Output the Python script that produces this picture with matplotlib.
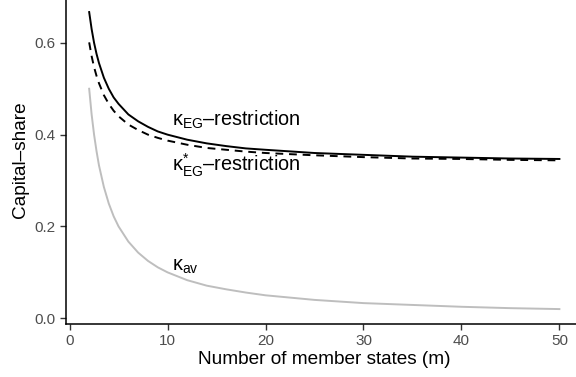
import matplotlib
matplotlib.use("Agg")
import matplotlib.pyplot as plt

plt.rcParams['font.family'] = ['Liberation Sans', 'DejaVu Sans']
plt.rcParams['mathtext.fontset'] = 'custom'
plt.rcParams['mathtext.rm'] = 'Liberation Sans'
plt.rcParams['mathtext.it'] = 'Liberation Sans'
plt.rcParams['mathtext.default'] = 'regular'

# Werte
m = [2, 2.25, 2.5, 2.75, 3, 3.5, 4, 4.5, 5, 6, 7, 8, 9, 10, 12, 14, 16, 18, 20,
     25, 30, 35, 40, 45, 50]
kappa_eg = [0.667, 0.630, 0.600, 0.576, 0.556, 0.524, 0.500, 0.481, 0.467,
            0.444, 0.429, 0.417, 0.407, 0.400, 0.389, 0.381, 0.375, 0.370,
            0.367, 0.360, 0.356, 0.352, 0.350, 0.348, 0.347]
kappa_eg_star = [0.601, 0.571, 0.547, 0.528, 0.512, 0.486, 0.467, 0.452,
                 0.440, 0.422, 0.410, 0.400, 0.393, 0.387, 0.378, 0.371,
                 0.367, 0.363, 0.360, 0.355, 0.351, 0.348, 0.347, 0.345, 0.344]
kappa_av = [0.500, 0.444, 0.400, 0.364, 0.333, 0.286, 0.250, 0.222, 0.200,
            0.167, 0.143, 0.125, 0.111, 0.100, 0.083, 0.071, 0.063, 0.056,
            0.050, 0.040, 0.033, 0.029, 0.025, 0.022, 0.020]

xticks = [0, 10, 20, 30, 40, 50]
yticks = [0.0, 0.2, 0.4, 0.6]

fig = plt.figure(figsize=(5.76, 3.77), dpi=100)
ax = fig.add_axes([0.114, 0.1406, 0.898, 0.8706])

ax.plot(m, kappa_av, color='#BEBEBE', lw=1.4)
ax.plot(m, kappa_eg_star, color='black', lw=1.4, ls=(0, (4, 3)))
ax.plot(m, kappa_eg, color='black', lw=1.4)

ax.text(10.5, 0.432, r'$\kappa_{EG}$–restriction', fontsize=14.3, va='center', ha='left')
ax.text(10.5, 0.333, r'$\kappa^{*}_{EG}$–restriction', fontsize=14.3, va='center', ha='left')
ax.text(10.5, 0.112, r'$\kappa_{av}$', fontsize=14.3, va='center', ha='left')

ax.set_xlim(-0.4, 52.4)
ax.set_ylim(-0.0125, 0.7025)
ax.set_xticks(xticks)
ax.set_yticks(yticks)
ax.set_yticklabels([f'{v:.1f}' for v in yticks])

for s in ['top', 'right']:
    ax.spines[s].set_visible(False)
for s in ['left', 'bottom']:
    ax.spines[s].set_linewidth(1.1)
ax.tick_params(colors='#333333', length=4, width=1.0, labelsize=11,
               labelcolor='#4D4D4D')

ax.set_xlabel('Number of member states (m)', fontsize=13.7, labelpad=2)
ax.set_ylabel('Capital–share', fontsize=13.7, labelpad=4)

fig.savefig('out.png', dpi=100)
